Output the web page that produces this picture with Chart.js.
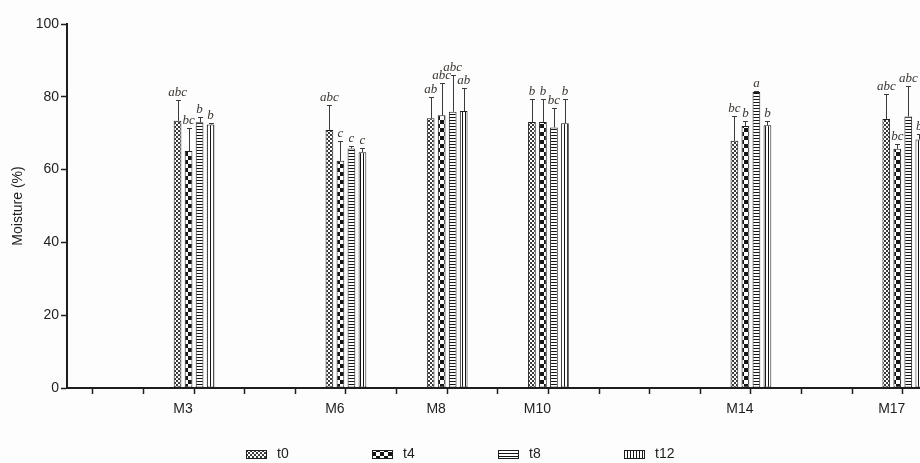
<!DOCTYPE html>
<html>
<head>
<meta charset="utf-8">
<script src="https://cdn.jsdelivr.net/npm/chart.js@4.4.0/dist/chart.umd.min.js"></script>
<style>
  html, body { margin: 0; padding: 0; background: #fdfdfd; }
  #chart { display: block; }
</style>
</head>
<body>
<canvas id="chart" width="920" height="463"></canvas>
<script>
// months on a numeric axis, one tick every month
const months = [3, 6, 8, 10, 14, 17]
const monthLabels = ['M3', 'M6', 'M8', 'M10', 'M14', 'M17']
const axisTicks = [1, 2, 3, 4, 5, 6, 7, 8, 9, 10, 11, 12, 13, 14, 15, 16, 17]
const yTicks = [0, 20, 40, 60, 80, 100]

const seriesNames = ['t0', 't4', 't8', 't12']

// mean moisture (%)
const t0 = [73.4, 70.9, 74.1, 73.1, 67.9, 73.9]
const t4 = [65.1, 62.4, 74.9, 73.1, 72.0, 65.7]
const t8 = [73.0, 65.8, 75.9, 71.6, 81.3, 74.6]
const t12 = [72.4, 64.8, 76.1, 72.7, 72.2, 68.3]

// upper error (SD)
const t0Sd = [5.7, 6.8, 5.9, 6.2, 6.9, 6.8]
const t4Sd = [6.2, 5.5, 9.0, 6.2, 1.4, 1.2]
const t8Sd = [1.5, 0.8, 10.0, 5.3, 0.4, 8.4]
const t12Sd = [0.5, 1.2, 6.2, 6.6, 1.2, 1.4]

// significance letters
const t0Letters = ['abc', 'abc', 'ab', 'b', 'bc', 'abc']
const t4Letters = ['bc', 'c', 'abc', 'b', 'b', 'bc']
const t8Letters = ['b', 'c', 'abc', 'bc', 'a', 'abc']
const t12Letters = ['b', 'c', 'ab', 'b', 'b', 'b']

const ink = '#1e1e1e'
const sansFont = '"Liberation Sans", Arial, sans-serif'

let canvas = document.getElementById('chart')
let ctx = canvas.getContext('2d')

let makePattern = (w, h, draw) => {
  let c = document.createElement('canvas')
  c.width = w
  c.height = h
  let p = c.getContext('2d')
  p.fillStyle = '#ffffff'
  p.fillRect(0, 0, w, h)
  p.fillStyle = '#161616'
  draw(p)
  return ctx.createPattern(c, 'repeat')
}

let patterns = [
  // fine checker
  makePattern(4, 4, p => {
    p.fillStyle = '#3a3a3a'
    p.fillRect(0, 0, 2, 2)
    p.fillRect(2, 2, 2, 2)
  }),
  // coarse checker
  makePattern(8, 8, p => {
    p.fillRect(0, 0, 4, 4)
    p.fillRect(4, 4, 4, 4)
  }),
  // horizontal lines
  makePattern(3, 3, p => {
    p.fillRect(0, 0, 3, 1)
  }),
  // vertical lines
  makePattern(3, 3, p => {
    p.fillRect(0, 0, 1, 3)
  })
]

let values = [t0, t4, t8, t12]
let errors = [t0Sd, t4Sd, t8Sd, t12Sd]
let letters = [t0Letters, t4Letters, t8Letters, t12Letters]

let datasets = seriesNames.map((name, i) => {
  return {
    label: name,
    data: months.map((m, j) => ({ x: m, y: values[i][j] })),
    sd: errors[i],
    letters: letters[i],
    backgroundColor: patterns[i],
    borderColor: ink,
    borderWidth: 1,
    borderSkipped: false,
    categoryPercentage: 0.87,
    barPercentage: 0.7
  }
})

let background = {
  id: 'background',
  beforeDraw (chart) {
    let c = chart.ctx
    c.save()
    c.fillStyle = '#fdfdfd'
    c.fillRect(0, 0, chart.width, chart.height)
    c.restore()
  }
}

let errorBars = {
  id: 'errorBars',
  afterDatasetsDraw (chart) {
    let c = chart.ctx
    let y = chart.scales.y
    c.save()
    c.textAlign = 'center'
    c.textBaseline = 'bottom'
    c.font = 'italic 13px "Liberation Serif", "DejaVu Serif", serif'
    chart.data.datasets.forEach((ds, i) => {
      let meta = chart.getDatasetMeta(i)
      meta.data.forEach((bar, j) => {
        let top = Math.round(y.getPixelForValue(ds.data[j].y + ds.sd[j])) + 0.5
        let x = Math.round(bar.x) + 0.5
        c.strokeStyle = '#3a3a3a'
        c.lineWidth = 1
        c.beginPath()
        c.moveTo(x, bar.y)
        c.lineTo(x, top)
        c.moveTo(x - 2.5, top)
        c.lineTo(x + 2.5, top)
        c.stroke()
        c.fillStyle = '#3a3530'
        c.fillText(ds.letters[j], bar.x, top - 1)
      })
    })
    c.restore()
  }
}

let bottomLegend = {
  id: 'bottomLegend',
  afterDraw (chart) {
    let c = chart.ctx
    let items = chart.data.datasets
    let pitch = 126
    let boxW = 20
    let boxH = 8
    let cy = 454
    let start = chart.width / 2 - (pitch * (items.length - 1) + 50) / 2
    c.save()
    c.font = '14px ' + sansFont
    c.textBaseline = 'middle'
    c.textAlign = 'left'
    items.forEach((ds, i) => {
      let x = Math.round(start + i * pitch)
      let top = Math.round(cy - boxH / 2)
      c.fillStyle = ds.backgroundColor
      c.fillRect(x, top, boxW, boxH)
      c.strokeStyle = ink
      c.lineWidth = 1
      c.strokeRect(x + 0.5, top + 0.5, boxW, boxH)
      c.fillStyle = ink
      c.fillText(ds.label, x + boxW + 11, cy)
    })
    c.restore()
  }
}

let chart = new Chart(ctx, {
  type: 'bar',
  data: { datasets },
  plugins: [background, errorBars, bottomLegend],
  options: {
    responsive: false,
    animation: false,
    devicePixelRatio: 1,
    layout: {
      padding: { top: 24, right: 0, bottom: 0, left: 0 }
    },
    plugins: {
      legend: { display: false },
      tooltip: { enabled: false }
    },
    scales: {
      x: {
        type: 'linear',
        offset: false,
        min: 0.49,
        max: 17.34,
        afterBuildTicks (scale) {
          scale.ticks = axisTicks.map(v => ({ value: v }))
        },
        afterFit (scale) {
          scale.height = 75
          scale.paddingLeft = 0
          scale.paddingRight = 0
        },
        grid: {
          offset: false,
          drawOnChartArea: false,
          drawTicks: true,
          tickLength: 6,
          tickWidth: 1.5,
          tickColor: ink
        },
        border: { display: true, color: ink, width: 2 },
        ticks: {
          autoSkip: false,
          maxRotation: 0,
          padding: 7,
          labelOffset: -11,
          color: ink,
          font: { family: sansFont, size: 14 },
          callback (v) {
            let k = months.indexOf(v)
            return k >= 0 ? monthLabels[k] : ''
          }
        }
      },
      y: {
        min: 0,
        max: 100,
        afterBuildTicks (scale) {
          scale.ticks = yTicks.map(v => ({ value: v }))
        },
        afterFit (scale) {
          scale.width = 67
        },
        grid: {
          drawOnChartArea: false,
          drawTicks: true,
          tickLength: 6,
          tickWidth: 1.5,
          tickColor: ink
        },
        border: { display: true, color: ink, width: 2 },
        ticks: {
          padding: 2,
          color: ink,
          font: { family: sansFont, size: 14 }
        },
        title: {
          display: true,
          text: 'Moisture (%)',
          color: ink,
          padding: { top: 10, bottom: 0 },
          font: { family: sansFont, size: 14 }
        }
      }
    }
  }
})
</script>
</body>
</html>
